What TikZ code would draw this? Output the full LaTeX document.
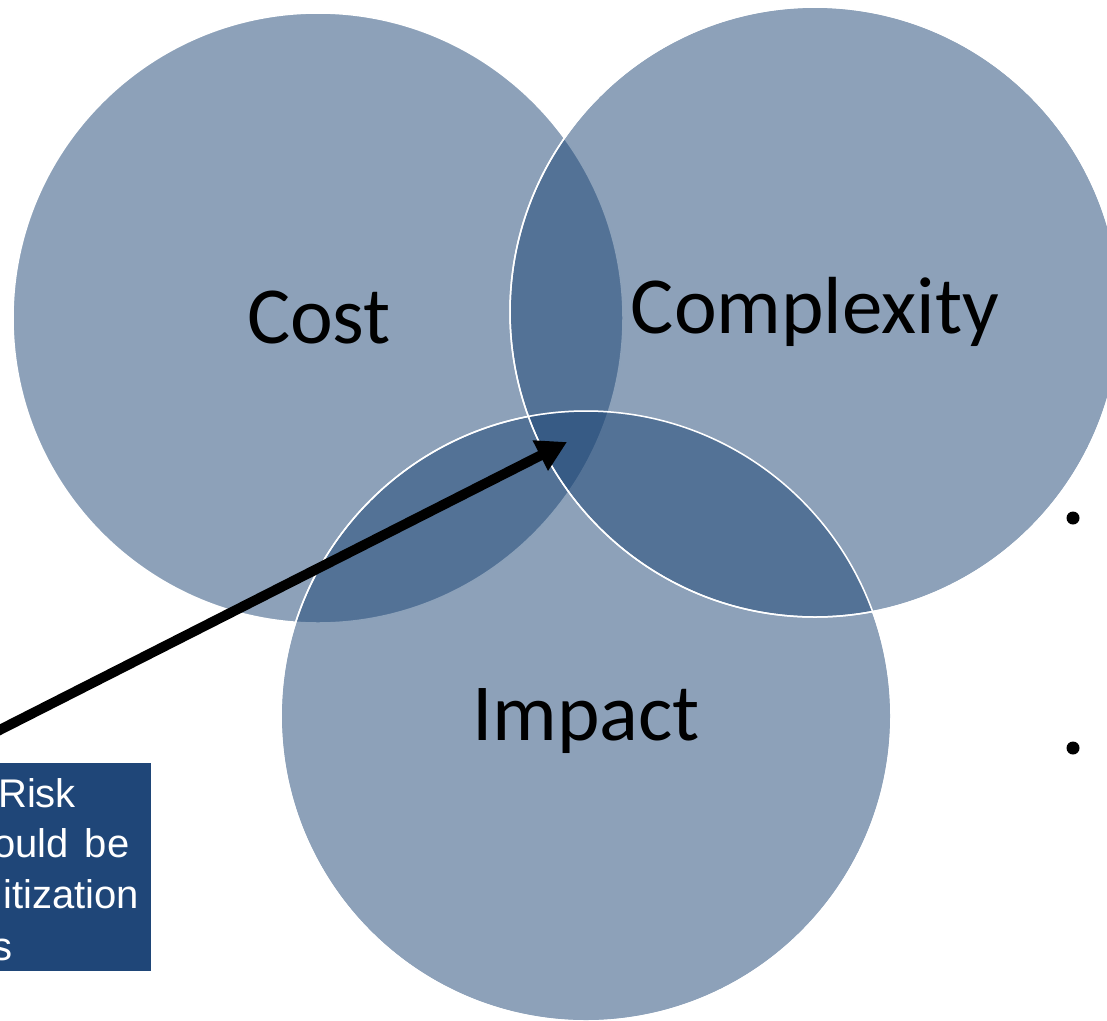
\documentclass[tikz,border=0pt]{standalone}
\usepackage{fontspec}
\setmainfont{Carlito}
\newfontfamily\notefont{Liberation Sans}
\usetikzlibrary{arrows.meta}
\definecolor{setblue}{RGB}{27,68,116}
\definecolor{notebg}{RGB}{31,70,120}
\tikzset{
  venn/.style={fill=setblue, fill opacity=0.5, draw=white, line width=1.5pt},
  setlabel/.style={anchor=base, inner sep=0pt, font=\fontsize{81}{96}\selectfont, text=black},
  noteline/.style={anchor=base west, inner sep=0pt, font=\notefont\fontsize{40}{48}\selectfont, text=white},
  pointer/.style={line width=10pt, -{Triangle[length=30pt,width=32pt]}},
  bulletdot/.style={circle, fill=black, inner sep=0pt, minimum size=13pt}
}
\begin{document}
\begin{tikzpicture}[x=1pt,y=-1pt]
  \useasboundingbox (0,0) rectangle (1107,1020);
  \clip (0,0) rectangle (1107,1020);

  % set centres
  \coordinate (costc) at (318,318);
  \coordinate (impc) at (586,716);
  \coordinate (cplxc) at (815,312);

  % the three sets
  \fill[venn] (costc) circle[radius=305pt];
  \fill[venn] (impc) circle[radius=305pt];
  \fill[venn] (cplxc) circle[radius=305pt];
  \draw[white, line width=1.5pt] (impc) circle[radius=305pt];
  \draw[white, line width=1.5pt] (cplxc) circle[radius=305pt];

  % set labels
  \node[setlabel] (cost) at (319,343) {Cost};
  \node[setlabel] (cplx) at (815,333) {Complexity};
  \node[setlabel] (imp) at (586,740) {Impact};

  % note box
  \node[fill=notebg, inner sep=0pt, minimum width=171pt, minimum height=208pt, anchor=north west] (note) at (-20,763) {};
  \node[noteline] (l1) at (-2,807) {Risk};
  \node[noteline] (l2) at (-7,857) {ould\hspace{16pt}be};
  \node[noteline] (l3) at (3,908) {itization};
  \node[noteline] (l4) at (-8,960) {s};

  % pointer into the common region
  \coordinate (tail) at (-30,745);
  \coordinate (tip) at (567,442);
  \draw[pointer] (tail) -- (tip);

  % list bullets at the right edge
  \node[bulletdot] (b1) at (1073,518) {};
  \node[bulletdot] (b2) at (1073,748) {};
\end{tikzpicture}
\end{document}
